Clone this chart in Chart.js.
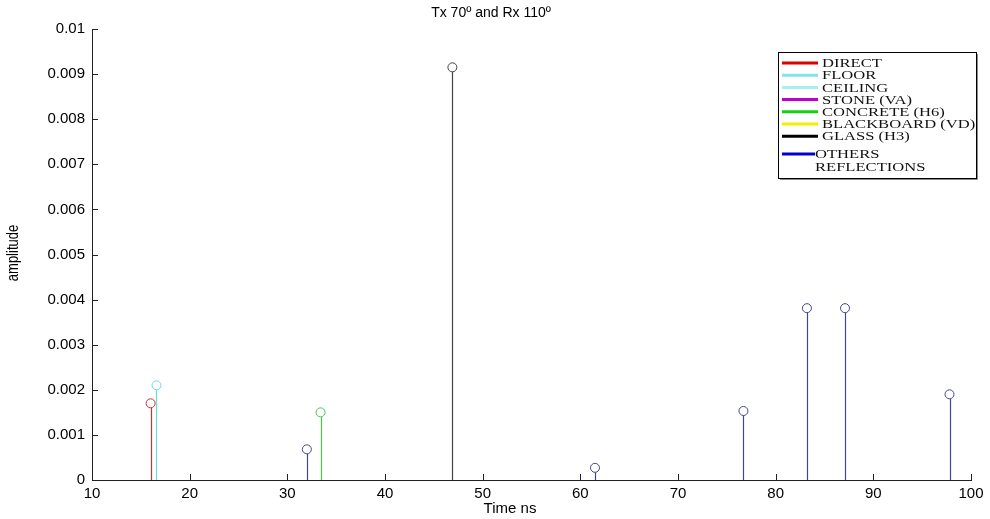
<!DOCTYPE html>
<html>
<head>
<meta charset="utf-8">
<title>Tx 70º and Rx 110º</title>
<script src="https://cdn.jsdelivr.net/npm/chart.js@4.4.1/dist/chart.umd.min.js"></script>
<style>
  body { margin: 0; background: #fff; }
  #wrap { width: 990px; height: 519px; }
</style>
</head>
<body>
<div id="wrap"><canvas id="impulseChart" width="990" height="519"></canvas></div>
<script>
// ejes
const xTicks = [10, 20, 30, 40, 50, 60, 70, 80, 90, 100];
const yTicks = [0, 0.001, 0.002, 0.003, 0.004, 0.005, 0.006, 0.007, 0.008, 0.009, 0.01];
const yTickLabels = ['0', '0.001', '0.002', '0.003', '0.004', '0.005', '0.006', '0.007', '0.008', '0.009', '0.01'];

// rayos: tiempo de llegada (ns) y amplitud
const directTime = [16.0];
const directAmp = [0.0017];
const floorTime = [16.6];
const floorAmp = [0.0021];
const concreteTime = [33.4];
const concreteAmp = [0.0015];
const glassTime = [46.9];
const glassAmp = [0.00915];
const othersTime = [32.0, 61.5, 76.7, 83.2, 87.1, 97.8];
const othersAmp = [0.00068, 0.00027, 0.00153, 0.00381, 0.00381, 0.0019];

// leyenda
const legendLabels = ['DIRECT', 'FLOOR', 'CEILING', 'STONE (VA)', 'CONCRETE (H6)', 'BLACKBOARD (VD)', 'GLASS (H3)', 'OTHERS', 'REFLECTIONS'];
const legendColors = ['#e00000', '#80e4e8', '#a8f0f0', '#c000c8', '#10d010', '#f0f000', '#000000', '#0000d0', null];

const toPoints = (t, a) => t.map((x, i) => ({ x: x, y: a[i] }));

function stemSet(label, t, a, color) {
    return {
        label: label,
        data: toPoints(t, a),
        borderColor: color,
        backgroundColor: 'rgba(0,0,0,0)',
        pointStyle: 'circle',
        pointRadius: 4.5,
        pointBorderWidth: 1,
        showLine: false
    };
}

// tallos, marcas de eje, titulos y leyenda
const stemPlugin = {
    id: 'stemPlugin',
    beforeDatasetsDraw(chart) {
        const ctx = chart.ctx;
        const y0 = chart.scales.y.getPixelForValue(0);
        ctx.save();
        ctx.lineWidth = 1.2;
        chart.data.datasets.forEach((ds, i) => {
            const meta = chart.getDatasetMeta(i);
            ctx.strokeStyle = ds.borderColor;
            meta.data.forEach(pt => {
                ctx.beginPath();
                ctx.moveTo(Math.round(pt.x) + 0.5, y0);
                ctx.lineTo(Math.round(pt.x) + 0.5, pt.y + 4.5);
                ctx.stroke();
            });
        });
        ctx.restore();
    },
    afterDraw(chart) {
        const ctx = chart.ctx;
        const area = chart.chartArea;
        const xs = chart.scales.x;
        const ys = chart.scales.y;
        ctx.save();

        // marcas hacia adentro
        ctx.strokeStyle = '#222';
        ctx.lineWidth = 1;
        ctx.beginPath();
        xTicks.forEach(v => {
            const px = Math.round(xs.getPixelForValue(v)) + 0.5;
            ctx.moveTo(px, area.bottom);
            ctx.lineTo(px, area.bottom - 6);
        });
        yTicks.forEach(v => {
            const py = Math.round(ys.getPixelForValue(v)) + 0.5;
            ctx.moveTo(area.left, py);
            ctx.lineTo(area.left + 6, py);
        });
        ctx.stroke();

        // titulo
        ctx.fillStyle = '#000';
        ctx.textAlign = 'center';
        ctx.textBaseline = 'middle';
        ctx.font = '14px "Liberation Sans", Arial, sans-serif';
        ctx.fillText('Tx 70º and Rx 110º', 491, 13);

        // titulos de eje
        ctx.font = '15px "Liberation Sans", Arial, sans-serif';
        ctx.fillText('Time ns', 510, 509);
        ctx.save();
        ctx.translate(14, 253);
        ctx.rotate(-Math.PI / 2);
        ctx.scale(1, 1.25);
        ctx.font = '13px "Liberation Sans", Arial, sans-serif';
        ctx.fillText('amplitude', 0, 0);
        ctx.restore();

        // leyenda
        const bx = 778, by = 52, bw = 198, bh = 126;
        ctx.fillStyle = '#fff';
        ctx.fillRect(bx, by, bw, bh);
        ctx.strokeStyle = '#000';
        ctx.lineWidth = 1;
        ctx.strokeRect(bx + 0.5, by + 0.5, bw, bh);
        ctx.strokeStyle = '#888';
        ctx.beginPath();
        ctx.moveTo(bx + bw + 1.5, by + 2);
        ctx.lineTo(bx + bw + 1.5, by + bh + 1.5);
        ctx.lineTo(bx + 2, by + bh + 1.5);
        ctx.stroke();

        ctx.textAlign = 'left';
        ctx.font = '12px "Liberation Serif", "Times New Roman", serif';
        legendLabels.forEach((lab, i) => {
            let y = 63 + i * 12.2;
            let tx = 822;
            if (i >= 7) {
                y = 154 + (i - 7) * 13;
                tx = 815;
            }
            const c = legendColors[i];
            if (c) {
                ctx.strokeStyle = c;
                ctx.lineWidth = 3;
                ctx.beginPath();
                ctx.moveTo(782, y);
                ctx.lineTo(i >= 7 ? 815 : 818, y);
                ctx.stroke();
            }
            ctx.save();
            ctx.translate(tx, y + 1);
            ctx.scale(1.38, 1);
            ctx.fillStyle = '#111';
            ctx.fillText(lab, 0, 0);
            ctx.restore();
        });

        ctx.restore();
    }
};

const ctx = document.getElementById('impulseChart').getContext('2d');
new Chart(ctx, {
    type: 'scatter',
    data: {
        datasets: [
            stemSet('DIRECT', directTime, directAmp, '#c83232'),
            stemSet('FLOOR', floorTime, floorAmp, '#6ed8e0'),
            stemSet('CONCRETE (H6)', concreteTime, concreteAmp, '#48c848'),
            stemSet('GLASS (H3)', glassTime, glassAmp, '#444444'),
            stemSet('OTHERS REFLECTIONS', othersTime, othersAmp, '#45458e')
        ]
    },
    options: {
        responsive: false,
        animation: false,
        layout: {
            padding: { top: 29, right: 19, left: 0, bottom: 0 }
        },
        plugins: {
            legend: { display: false },
            tooltip: { enabled: false }
        },
        scales: {
            x: {
                type: 'linear',
                min: 10,
                max: 100,
                afterBuildTicks: scale => { scale.ticks = xTicks.map(v => ({ value: v })); },
                afterFit: scale => { scale.height = 39; },
                grid: { display: false, tickLength: 0 },
                border: { display: true, color: '#222', width: 1 },
                ticks: {
                    color: '#000',
                    padding: 5,
                    maxRotation: 0,
                    font: { family: '"Liberation Sans", Arial, sans-serif', size: 15 }
                }
            },
            y: {
                min: 0,
                max: 0.01,
                afterBuildTicks: scale => { scale.ticks = yTicks.map(v => ({ value: v })); },
                afterFit: scale => { scale.width = 92; },
                grid: { display: false, tickLength: 0 },
                border: { display: true, color: '#222', width: 1 },
                ticks: {
                    color: '#000',
                    padding: 7,
                    font: { family: '"Liberation Sans", Arial, sans-serif', size: 15 },
                    callback: (value, index) => yTickLabels[index]
                }
            }
        }
    },
    plugins: [stemPlugin]
});
</script>
</body>
</html>
